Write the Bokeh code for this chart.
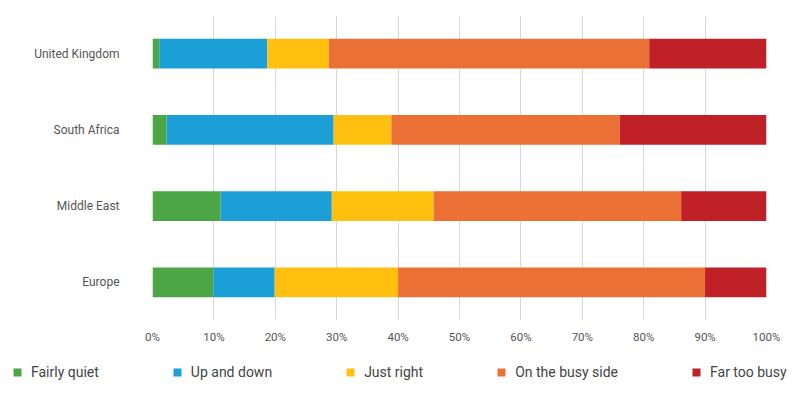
from bokeh.plotting import figure
from bokeh.layouts import column
from bokeh.models import FixedTicker, PrintfTickFormatter, Legend, LegendItem, ColumnDataSource, Range1d, FactorRange
from bokeh.embed import file_html
from bokeh.resources import INLINE

# ---- data (percent of respondents) ----
regions = ["Europe", "Middle East", "South Africa", "United Kingdom"]
series = ["Fairly quiet", "Up and down", "Just right", "On the busy side", "Far too busy"]
fairly_quiet = [9.9, 11.1, 2.3, 1.1]
up_and_down = [10.0, 18.1, 27.2, 17.6]
just_right = [20.1, 16.6, 9.4, 10.0]
busy_side = [50.0, 40.3, 37.2, 52.2]
far_too_busy = [10.0, 13.9, 23.9, 19.1]
x_ticks = [0, 10, 20, 30, 40, 50, 60, 70, 80, 90, 100]
colors = ["#4CA646", "#1B9FD6", "#FFC010", "#EB7035", "#C02027"]

FONT = "Roboto"

source = ColumnDataSource(data={
    "region": regions,
    series[0]: fairly_quiet,
    series[1]: up_and_down,
    series[2]: just_right,
    series[3]: busy_side,
    series[4]: far_too_busy,
})

p = figure(width=798, height=350, y_range=FactorRange(factors=regions, range_padding=0),
           x_range=Range1d(0, 100), output_backend="svg", toolbar_location=None,
           min_border_left=152, min_border_right=32, min_border_top=15, min_border_bottom=30)
p.frame_align = False

renderers = p.hbar_stack(series, y="region", height=0.39, color=colors, source=source,
                         line_color=None)

p.outline_line_color = None
p.background_fill_color = "white"
p.border_fill_color = "white"

p.xgrid.ticker = FixedTicker(ticks=x_ticks)
p.xgrid.grid_line_color = "#d9d9d9"
p.xgrid.grid_line_width = 1
p.ygrid.grid_line_color = None

p.xaxis.ticker = FixedTicker(ticks=x_ticks)
p.xaxis.formatter = PrintfTickFormatter(format="%d%%")
for ax in (p.xaxis[0], p.yaxis[0]):
    ax.axis_line_color = None
    ax.major_tick_line_color = None
    ax.minor_tick_line_color = None
    ax.major_tick_out = 0
    ax.major_tick_in = 0
    ax.minor_tick_out = 0
    ax.minor_tick_in = 0
    ax.major_label_text_font = FONT
    ax.major_label_text_color = "#555555"
p.xaxis.major_label_text_font_size = "11.5px"
p.xaxis.major_label_standoff = 9
p.yaxis.major_label_text_font_size = "12px"
p.yaxis.major_label_standoff = 33

# ---- legend in its own strip below the chart ----
lf = figure(width=798, height=35, x_range=Range1d(-1000, -900),
            y_range=FactorRange(factors=regions),
            output_backend="svg", toolbar_location=None,
            min_border=0, min_border_left=0, min_border_right=0,
            min_border_top=0, min_border_bottom=0)
lf.frame_align = False
lf.axis.visible = False
lf.grid.visible = False
lf.outline_line_color = None
lf.background_fill_color = "white"
lf.border_fill_color = "white"
legend_renderers = lf.hbar_stack(series, y="region", height=0.39, color=colors,
                                 source=source, line_color=None)

items = [LegendItem(label=s, renderers=[r]) for s, r in zip(series, legend_renderers)]
legend = Legend(items=items, orientation="horizontal", location=(12, 5),
                spacing=73, label_standoff=9, glyph_width=10, glyph_height=10,
                label_height=10, padding=0, margin=0, border_line_color=None,
                background_fill_alpha=0, label_text_font=FONT,
                label_text_font_size="14px", label_text_color="#444444")
lf.add_layout(legend, "center")

layout = column(p, lf, spacing=0)
open("out.html", "w").write(file_html(layout, INLINE))
